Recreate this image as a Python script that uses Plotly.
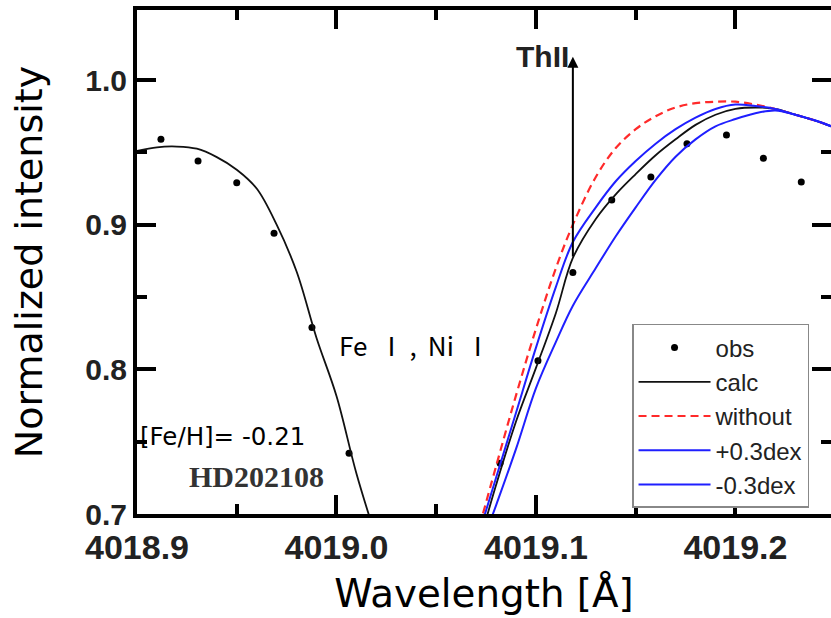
import plotly.graph_objects as go

# ---------------- data ----------------
obs_x = [4018.912, 4018.9306, 4018.950, 4018.9687, 4018.9877, 4019.0063,
         4019.082, 4019.101, 4019.1185, 4019.138, 4019.1576, 4019.1757,
         4019.1955, 4019.214, 4019.233]
obs_y = [0.959, 0.944, 0.929, 0.894, 0.829, 0.742,
         0.735, 0.806, 0.867, 0.917, 0.933, 0.956,
         0.962, 0.946, 0.9295]

left_x = [4018.900, 4018.910, 4018.920, 4018.930, 4018.940, 4018.950, 4018.960,
          4018.970, 4018.980, 4018.990, 4019.000, 4019.010, 4019.020]
left_calc = [0.951, 0.9535, 0.9540, 0.9525, 0.9467, 0.938, 0.925,
             0.900, 0.8676, 0.8217, 0.7816, 0.728, 0.683]

right_x = [4019.070, 4019.080, 4019.090, 4019.100, 4019.110, 4019.1185, 4019.130,
           4019.140, 4019.150, 4019.160, 4019.170, 4019.180, 4019.190,
           4019.200, 4019.210, 4019.220, 4019.230, 4019.240, 4019.250]
calc_r = [0.672, 0.720, 0.764, 0.801, 0.839, 0.877, 0.904,
          0.921, 0.935, 0.948, 0.959, 0.969, 0.976,
          0.980, 0.981, 0.980, 0.976, 0.972, 0.967]
without_r = [0.683, 0.733, 0.782, 0.828, 0.870, 0.900, 0.933,
             0.953, 0.966, 0.975, 0.981, 0.984, 0.985,
             0.985, 0.983, 0.980, 0.976, 0.972, 0.967]
plus03_r = [0.668, 0.706, 0.745, 0.787, 0.819, 0.844, 0.870,
            0.892, 0.912, 0.931, 0.947, 0.959, 0.968,
            0.973, 0.977, 0.979, 0.976, 0.972, 0.967]
minus03_r = [0.680, 0.725, 0.770, 0.815, 0.857, 0.888, 0.912,
             0.930, 0.944, 0.956, 0.966, 0.974, 0.980,
             0.983, 0.982, 0.980, 0.976, 0.972, 0.967]

th_x = 4019.1185          # Th II line position
th_y_low = 0.877
th_y_top = 1.016

x_range = [4018.9, 4019.2479]
y_range = [0.7, 1.0484]

calc_x = left_x + [None] + right_x
calc_y = left_calc + [None] + calc_r

fig = go.Figure()
fig.add_trace(go.Scatter(x=obs_x, y=obs_y, mode="markers", name="obs",
                         marker=dict(color="black", size=7)))
fig.add_trace(go.Scatter(x=calc_x, y=calc_y, mode="lines", name="calc",
                         line=dict(color="#111111", width=1.8, shape="spline"),
                         connectgaps=False))
fig.add_trace(go.Scatter(x=right_x, y=without_r, mode="lines", name="without",
                         line=dict(color="#ff2a2a", width=2.2, dash="8px,5px", shape="spline")))
fig.add_trace(go.Scatter(x=right_x, y=plus03_r, mode="lines", name="+0.3dex",
                         line=dict(color="#1f1fff", width=2, shape="spline")))
fig.add_trace(go.Scatter(x=right_x, y=minus03_r, mode="lines", name="-0.3dex",
                         line=dict(color="#1f1fff", width=2, shape="spline")))

tick_font_x = dict(family="Liberation Sans, Arial", size=34, color="#222", weight="bold")
tick_font_y = dict(family="Liberation Sans, Arial", size=30, color="#222", weight="bold")
title_font_x = dict(family="DejaVu Sans", size=38.8, color="black")
title_font_y = dict(family="DejaVu Sans", size=38, color="black")

axis_common = dict(ticks="inside", ticklen=19, tickwidth=3.5, tickcolor="black",
                   showline=True, linewidth=4, linecolor="black", mirror="ticks",
                   showgrid=False, zeroline=False)

fig.update_layout(
    template="none",
    width=831, height=618,
    margin=dict(l=137, r=0, t=10, b=104),
    plot_bgcolor="white", paper_bgcolor="white",
    showlegend=True,
    legend=dict(x=0.7133, y=0.377, xanchor="left", yanchor="top",
                bordercolor="#888", borderwidth=1.5, bgcolor="white",
                font=dict(family="Liberation Sans, Arial", size=24, color="#222"),
                itemwidth=72, tracegroupgap=0),
    xaxis=dict(range=x_range, tickmode="linear", tick0=4018.9, dtick=0.1,
               tickformat=".1f", tickfont=tick_font_x,
               minor=dict(dtick=0.05, tick0=4018.9, ticks="inside", ticklen=10,
                          tickwidth=3.5, tickcolor="black", showgrid=False),
               title=dict(text="Wavelength [Å]", font=title_font_x, standoff=16),
               **axis_common),
    yaxis=dict(range=y_range, tickmode="linear", tick0=0.7, dtick=0.1,
               tickformat=".1f", tickfont=tick_font_y,
               minor=dict(dtick=0.05, tick0=0.7, ticks="inside", ticklen=10,
                          tickwidth=3.5, tickcolor="black", showgrid=False),
               title=dict(text="Normalized intensity", font=title_font_y, standoff=32),
               **axis_common),
)

# Th II arrow and label
fig.add_annotation(x=th_x, y=th_y_top, ax=th_x, ay=th_y_low, xref="x", yref="y",
                   axref="x", ayref="y", showarrow=True, arrowhead=2, arrowsize=1.1,
                   arrowwidth=2, arrowcolor="black", text="")
fig.add_annotation(x=th_x, y=th_y_top, xref="x", yref="y", text="ThII",
                   showarrow=False, xanchor="right", yanchor="middle", xshift=-2,
                   font=dict(family="Liberation Sans, Arial", size=30, color="#222", weight="bold"))
fig.add_annotation(x=4019.0015, y=0.8175, xref="x", yref="y",
                   text="Fe\u00a0\u2009Ⅰ\u2009,\u00a0\u2009Ni\u00a0\u2009Ⅰ",
                   showarrow=False, xanchor="left", yanchor="middle", xshift=-2,
                   font=dict(family="Noto Sans CJK JP", size=26, color="black"))
fig.add_annotation(x=4018.9, y=0.7535, xref="x", yref="y", text="[Fe/H]= -0.21",
                   showarrow=False, xanchor="left", yanchor="middle", xshift=1,
                   font=dict(family="DejaVu Sans", size=24.5, color="black"))
fig.add_annotation(x=4018.9266, y=0.7256, xref="x", yref="y", text="HD202108",
                   showarrow=False, xanchor="left", yanchor="middle", xshift=-3,
                   font=dict(family="Liberation Serif", size=30, color="#333", weight="bold"))

fig.write_html("out.html")
